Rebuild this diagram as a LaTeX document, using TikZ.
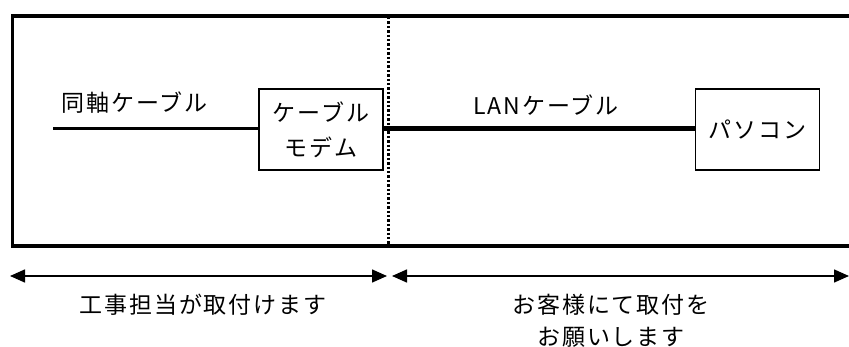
\documentclass[tikz,border=0pt]{standalone}
\usepackage{fontspec}
\setmainfont{Noto Sans CJK JP}[LetterSpace=8]
\usetikzlibrary{arrows.meta}
\tikzset{
  lbl/.style={inner sep=0pt, font=\fontsize{23pt}{32pt}\selectfont, align=center},
  devbox/.style={draw, line width=1.6pt, minimum width=124pt, minimum height=81pt, inner sep=0pt, font=\fontsize{23pt}{35pt}\selectfont, align=center},
  coax/.style={line width=3.6pt},
  lan/.style={line width=4.8pt},
  frame/.style={line width=3.8pt},
  divider/.style={line width=3pt, dash pattern=on 2.4pt off 2pt},
  span/.style={line width=1.5pt, {Triangle[length=15pt,width=13pt]}-{Triangle[length=15pt,width=13pt]}}
}
\begin{document}
\begin{tikzpicture}[x=1pt,y=-1pt]
\useasboundingbox (0,0) rectangle (849,347);
\fill[white] (0,0) rectangle (849,347);
% outer frame (right side beyond the picture)
\draw[frame] (870,16) -- (12.5,16) -- (12.5,246) -- (870,246);
% divider
\coordinate (dtop) at (388,17);
\coordinate (dbot) at (388,244);
\draw[divider] (dtop) -- (dbot);
% devices
\node[devbox] (modem) at (321,129.5) {ケーブル\\モデム};
\node[devbox] (pc) at (757.5,129.5) {パソコン};
% cables
\coordinate (coaxstart) at (53,128.5);
\draw[coax] (coaxstart) -- (coaxstart -| modem.west);
\draw[lan] (modem.east |- 0,128.5) -- (pc.west |- 0,128.5);
\node[lbl] (coaxlbl) at (134.5,103) {同軸ケーブル};
\node[lbl] (lanlbl) at (546,105) {LANケーブル};
% spans
\coordinate (a1) at (10,276);
\coordinate (a2) at (387,276);
\coordinate (b1) at (392,276);
\coordinate (b2) at (849,276);
\draw[span] (a1) -- (a2);
\draw[span] (b1) -- (b2);
\node[lbl] (left) at (203,305) {工事担当が取付けます};
\node[lbl] (right) at (611,321) {お客様にて取付を\\お願いします};
\end{tikzpicture}
\end{document}
